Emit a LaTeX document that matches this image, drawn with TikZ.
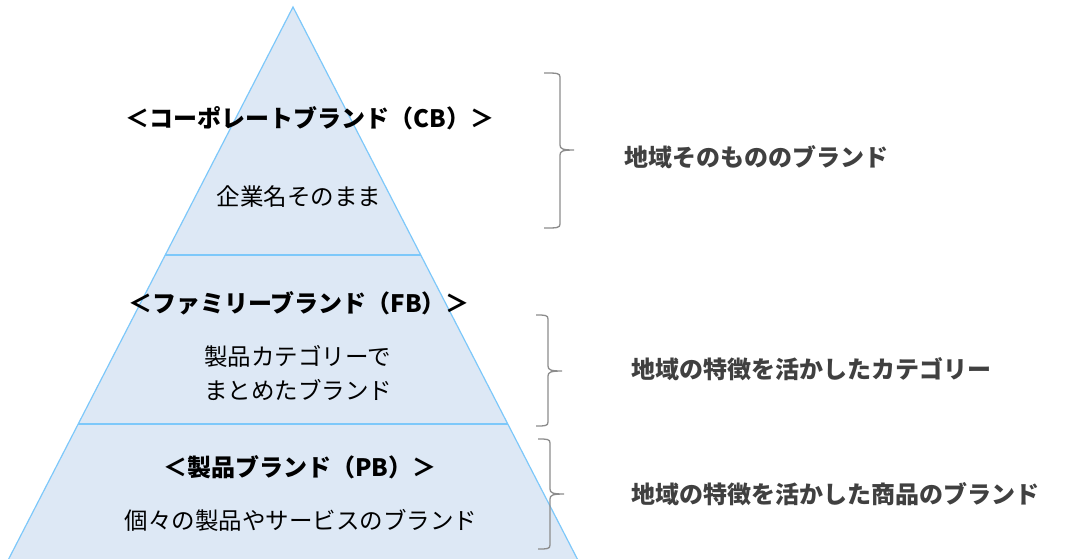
\documentclass[tikz,border=0pt]{standalone}
\usepackage{fontspec}
\setmainfont{Noto Sans CJK JP}
\usetikzlibrary{calc}
\definecolor{pyrfill}{RGB}{221,232,245}
\definecolor{pyrline}{RGB}{125,200,250}
\definecolor{bracegray}{RGB}{140,140,140}
\definecolor{labelgray}{RGB}{64,64,64}

% right brace: stem x, top y, tip y, bottom y, arm length
\newcommand{\sidebrace}[5]{%
  \draw[brace line] (#1-#5,#2) .. controls (#1-3,#2) and (#1,#2) .. (#1,#2+4)
    -- (#1,#3-5) .. controls (#1,#3-1) and (#1+3,#3) .. (#1+14,#3)
    .. controls (#1+3,#3) and (#1,#3+1) .. (#1,#3+5)
    -- (#1,#4-4) .. controls (#1,#4) and (#1-3,#4) .. (#1-#5,#4);}

\begin{document}
\begin{tikzpicture}[x=1pt,y=-1pt,
  title/.style={font=\fontsize{24}{28}\selectfont\bfseries},
  desc/.style={font=\fontsize{23.5}{34}\selectfont, align=left},
  side/.style={font=\fontsize{24}{28}\selectfont\bfseries, text=labelgray, anchor=west},
  brace line/.style={draw=bracegray, line width=1.3pt}]
\useasboundingbox (0,0) rectangle (1067,558);

\coordinate (apex) at (293,7);
\coordinate (bl) at (3,570);
\coordinate (br) at (583,570);
\coordinate (s1l) at ($(apex)!0.4405!(bl)$);
\coordinate (s1r) at ($(apex)!0.4405!(br)$);
\coordinate (s2l) at ($(apex)!0.7407!(bl)$);
\coordinate (s2r) at ($(apex)!0.7407!(br)$);

% pyramid
\fill[pyrfill] (apex) -- (bl) -- (br) -- cycle;
\draw[pyrline, line width=1.2pt] (bl) -- (apex) -- (br);
\draw[pyrline, line width=1.2pt] (s1l) -- (s1r);
\draw[pyrline, line width=1.2pt] (s2l) -- (s2r);

% texts in the pyramid
\node[title] (cb) at (310,118) {＜コーポレートブランド（CB）＞};
\node[desc] (cbd) at (299,197) {企業名そのまま};
\node[title] (fb) at (299,303) {＜ファミリーブランド（FB）＞};
\node[desc] (fbd) at (298,373) {製品カテゴリーで\\まとめたブランド};
\node[title] (pb) at (300,467) {＜製品ブランド（PB）＞};
\node[desc] (pbd) at (301,520) {個々の製品やサービスのブランド};

% braces
\sidebrace{560}{73}{150}{228}{16}
\sidebrace{548}{315}{371}{426}{12}
\sidebrace{550}{439}{494}{549}{12}

% labels on the right
\node[side] (cbs) at (621,157) {地域そのもののブランド};
\node[side] (fbs) at (628,369) {地域の特徴を活かしたカテゴリー};
\node[side] (pbs) at (628,494) {地域の特徴を活かした商品のブランド};
\end{tikzpicture}
\end{document}
